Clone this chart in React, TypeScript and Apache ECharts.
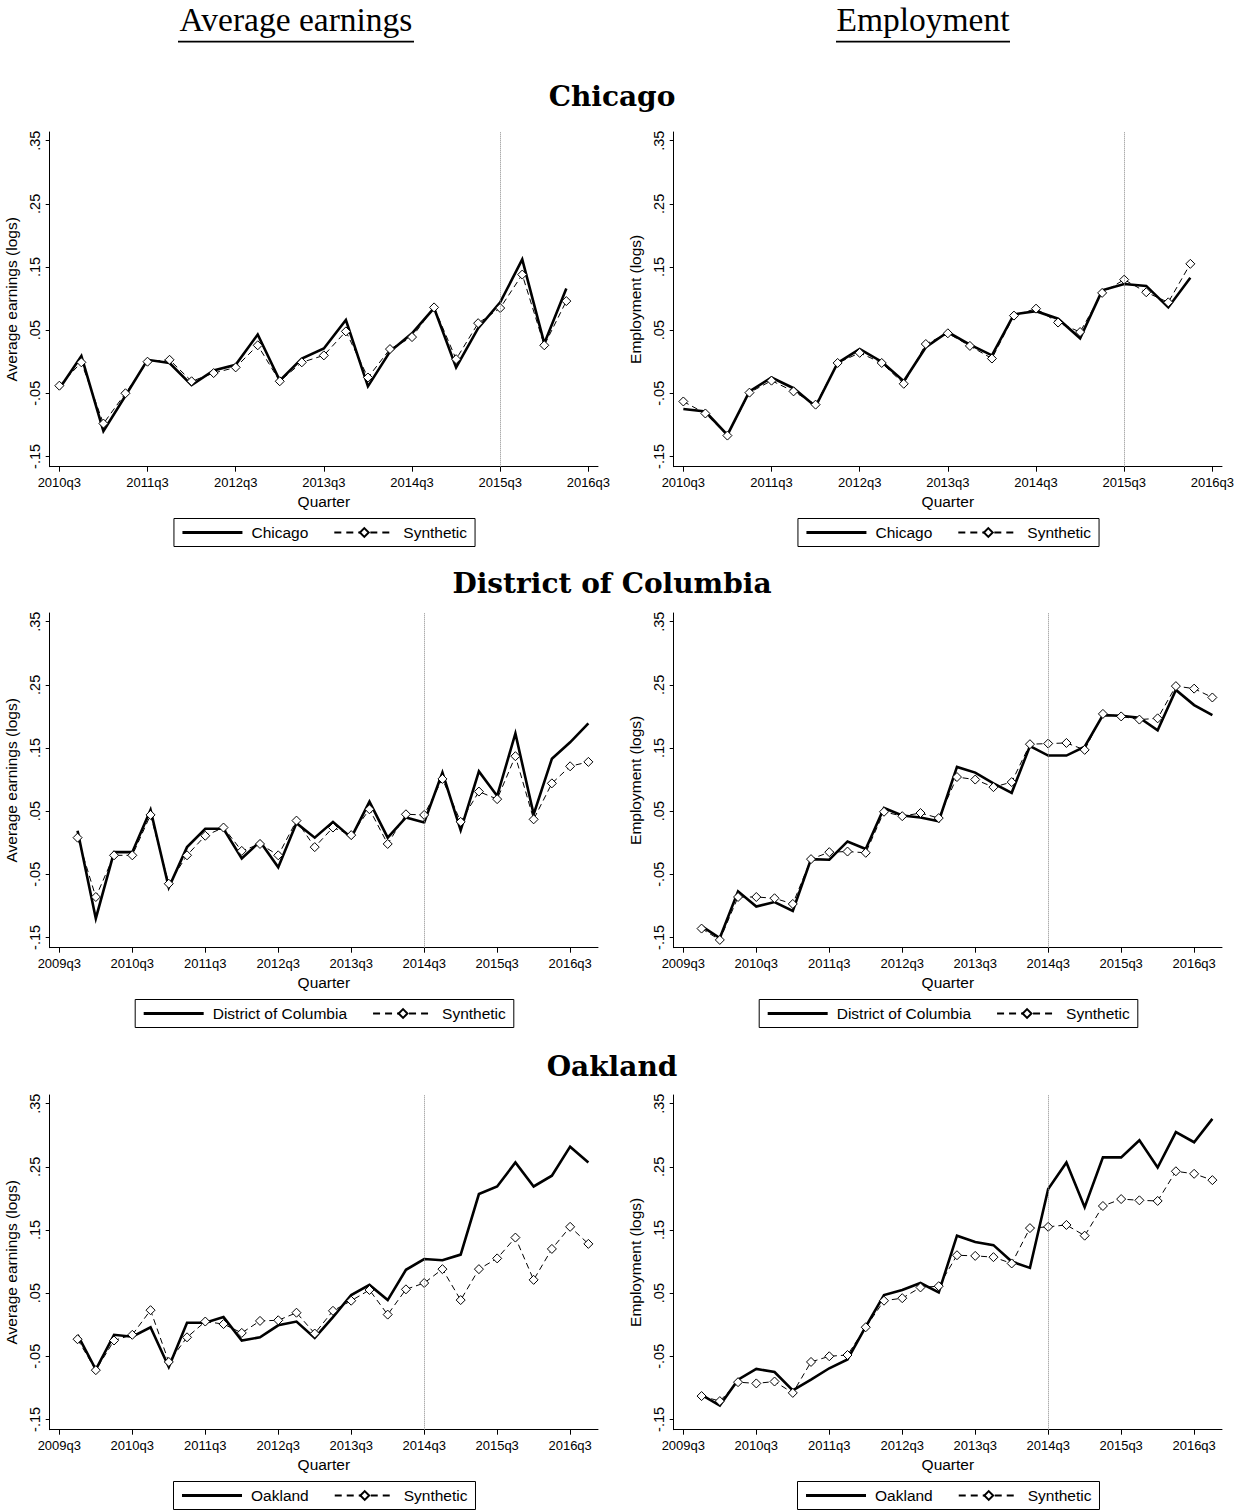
import React, { useEffect, useRef } from 'react';
import * as echarts from 'echarts';

// ---------------- data ----------------
// quarters
const chicagoFirstQuarter = '2010q3';
const dcFirstQuarter = '2009q4';
const oaklandFirstQuarter = '2009q4';
const chicagoTickRange = ['2010q3', '2016q3'];
const dcTickRange = ['2009q3', '2016q3'];
const oaklandTickRange = ['2009q3', '2016q3'];
const chicagoTreatQuarter = '2015q3';
const dcTreatQuarter = '2014q3';
const oaklandTreatQuarter = '2014q3';
const yTickValues = [-0.15, -0.05, 0.05, 0.15, 0.25, 0.35];

// Chicago
const chicagoEarnActual = [-0.043, 0.009, -0.110, -0.054, 0.003, -0.002, -0.037, -0.014, -0.005, 0.043, -0.030, 0.005, 0.021, 0.066, -0.039, 0.016, 0.045, 0.085, -0.009, 0.053, 0.094, 0.162, 0.029, 0.116];
const chicagoEarnSynth = [-0.038, -0.001, -0.098, -0.050, 0.000, 0.003, -0.031, -0.018, -0.009, 0.026, -0.031, -0.001, 0.010, 0.048, -0.025, 0.020, 0.039, 0.086, 0.004, 0.061, 0.085, 0.138, 0.026, 0.096];
const chicagoEmpActual = [-0.075, -0.079, -0.116, -0.047, -0.025, -0.042, -0.071, -0.002, 0.020, 0.000, -0.031, 0.023, 0.047, 0.027, 0.010, 0.075, 0.080, 0.068, 0.037, 0.113, 0.123, 0.120, 0.086, 0.133];
const chicagoEmpSynth = [-0.063, -0.082, -0.117, -0.049, -0.030, -0.047, -0.068, -0.002, 0.014, -0.002, -0.035, 0.028, 0.045, 0.025, 0.005, 0.073, 0.084, 0.062, 0.047, 0.109, 0.130, 0.110, 0.094, 0.155];

// District of Columbia
const dcEarnActual = [0.019, -0.120, -0.015, -0.015, 0.052, -0.071, -0.007, 0.022, 0.022, -0.025, 0.002, -0.039, 0.031, 0.008, 0.033, 0.008, 0.065, 0.008, 0.040, 0.032, 0.111, 0.020, 0.113, 0.074, 0.173, 0.045, 0.133, 0.159, 0.189];
const dcEarnSynth = [0.008, -0.086, -0.020, -0.020, 0.044, -0.065, -0.020, 0.011, 0.024, -0.013, -0.002, -0.020, 0.035, -0.007, 0.024, 0.012, 0.053, -0.002, 0.045, 0.044, 0.101, 0.033, 0.081, 0.069, 0.137, 0.037, 0.094, 0.121, 0.128];
const dcEmpActual = [-0.132, -0.151, -0.077, -0.101, -0.094, -0.108, -0.026, -0.027, 0.002, -0.010, 0.055, 0.043, 0.040, 0.034, 0.120, 0.111, 0.094, 0.079, 0.153, 0.138, 0.138, 0.152, 0.202, 0.201, 0.198, 0.178, 0.242, 0.218, 0.202];
const dcEmpSynth = [-0.136, -0.154, -0.086, -0.086, -0.088, -0.097, -0.026, -0.015, -0.014, -0.016, 0.049, 0.042, 0.047, 0.039, 0.104, 0.100, 0.088, 0.096, 0.156, 0.157, 0.158, 0.147, 0.204, 0.200, 0.195, 0.197, 0.248, 0.244, 0.230];

// Oakland
const oaklandEarnActual = [-0.016, -0.071, -0.016, -0.019, -0.004, -0.067, 0.003, 0.003, 0.012, -0.025, -0.020, -0.001, 0.005, -0.021, 0.012, 0.047, 0.063, 0.039, 0.087, 0.104, 0.102, 0.111, 0.207, 0.219, 0.257, 0.219, 0.236, 0.282, 0.257];
const oaklandEarnSynth = [-0.023, -0.072, -0.025, -0.016, 0.023, -0.059, -0.020, 0.005, 0.001, -0.013, 0.006, 0.007, 0.019, -0.014, 0.022, 0.038, 0.055, 0.016, 0.056, 0.066, 0.088, 0.039, 0.088, 0.105, 0.138, 0.071, 0.120, 0.155, 0.128];
const oaklandEmpActual = [-0.111, -0.128, -0.087, -0.070, -0.075, -0.104, -0.087, -0.069, -0.055, -0.003, 0.047, 0.055, 0.066, 0.051, 0.141, 0.131, 0.126, 0.100, 0.090, 0.215, 0.257, 0.186, 0.265, 0.265, 0.292, 0.249, 0.305, 0.289, 0.326];
const oaklandEmpSynth = [-0.113, -0.121, -0.091, -0.093, -0.090, -0.108, -0.059, -0.050, -0.048, -0.004, 0.038, 0.042, 0.059, 0.061, 0.110, 0.109, 0.107, 0.097, 0.153, 0.155, 0.158, 0.141, 0.188, 0.199, 0.197, 0.196, 0.243, 0.239, 0.229];

const columnHeaders = ['Average earnings', 'Employment'];
const rowTitles = ['Chicago', 'District of Columbia', 'Oakland'];
const yAxisNames = ['Average earnings (logs)', 'Employment (logs)'];

// ---------------- helpers ----------------
const SANS = '"Liberation Sans", Arial, Helvetica, sans-serif';
const SERIF = '"Liberation Serif", "Times New Roman", serif';
const SERIF_B = '"DejaVu Serif", serif';

const qNum = (s: string) => {
  const [y, q] = s.split('q');
  return Number(y) * 4 + Number(q) - 1;
};
const qLabel = (n: number) => {
  const r = Math.round(n);
  return `${Math.floor(r / 4)}q${(r % 4) + 1}`;
};
const yFmt = (v: number) => {
  const s = Math.abs(v).toFixed(2).replace(/^0/, '');
  return (v < 0 ? '-' : '') + s;
};

type Panel = {
  row: number;
  col: number;
  unit: string;
  yName: string;
  actual: number[];
  synth: number[];
  first: string;
  ticks: string[];
  treat: string;
};

const panels: Panel[] = [
  { row: 0, col: 0, unit: rowTitles[0], yName: yAxisNames[0], actual: chicagoEarnActual, synth: chicagoEarnSynth, first: chicagoFirstQuarter, ticks: chicagoTickRange, treat: chicagoTreatQuarter },
  { row: 0, col: 1, unit: rowTitles[0], yName: yAxisNames[1], actual: chicagoEmpActual, synth: chicagoEmpSynth, first: chicagoFirstQuarter, ticks: chicagoTickRange, treat: chicagoTreatQuarter },
  { row: 1, col: 0, unit: rowTitles[1], yName: yAxisNames[0], actual: dcEarnActual, synth: dcEarnSynth, first: dcFirstQuarter, ticks: dcTickRange, treat: dcTreatQuarter },
  { row: 1, col: 1, unit: rowTitles[1], yName: yAxisNames[1], actual: dcEmpActual, synth: dcEmpSynth, first: dcFirstQuarter, ticks: dcTickRange, treat: dcTreatQuarter },
  { row: 2, col: 0, unit: rowTitles[2], yName: yAxisNames[0], actual: oaklandEarnActual, synth: oaklandEarnSynth, first: oaklandFirstQuarter, ticks: oaklandTickRange, treat: oaklandTreatQuarter },
  { row: 2, col: 1, unit: rowTitles[2], yName: yAxisNames[1], actual: oaklandEmpActual, synth: oaklandEmpSynth, first: oaklandFirstQuarter, ticks: oaklandTickRange, treat: oaklandTreatQuarter },
];

// layout
const PANEL_W = 648;
const PANEL_H = 440;
const COL_X = [0, 624];
const ROW_Y0 = 120;
const ROW_STEP = 481.3;
const GRID = { left: 49.7, top: 12, width: 548.3, height: 334.7 };
const Y_MIN = -0.1663;
const Y_MAX = 0.3638;

function buildOption(p: Panel) {
  const s0 = qNum(p.first);
  const t0 = qNum(p.ticks[0]);
  const t1 = qNum(p.ticks[1]);
  const ticks: number[] = [];
  for (let t = t0; t <= t1; t += 4) ticks.push(t);
  const lastData = s0 + p.actual.length - 1;
  const lo = Math.min(t0, s0);
  const hi = Math.max(t1, lastData);
  const pad = (hi - lo) * 0.0182;
  const actualData = p.actual.map((v, i) => [s0 + i, v]);
  const synthData = p.synth.map((v, i) => [s0 + i, v]);
  return {
    animation: false,
    backgroundColor: 'transparent',
    grid: { ...GRID, containLabel: false, outerBoundsMode: 'none' },
    xAxis: {
      type: 'value',
      min: lo - pad,
      max: hi + pad,
      name: 'Quarter',
      nameLocation: 'middle',
      nameGap: 22,
      nameTextStyle: { fontFamily: SANS, fontSize: 15.5, color: '#000' },
      axisLine: { show: true, onZero: false, lineStyle: { color: '#000', width: 1 } },
      axisTick: { show: true, length: 5, customValues: ticks, lineStyle: { color: '#000' } },
      axisLabel: { show: true, customValues: ticks, formatter: (v: number) => qLabel(v), fontFamily: SANS, fontSize: 13, color: '#000', margin: 9 },
      splitLine: { show: false },
    },
    yAxis: {
      type: 'value',
      min: Y_MIN,
      max: Y_MAX,
      name: p.yName,
      nameLocation: 'middle',
      nameRotate: 90,
      nameGap: 26,
      nameTextStyle: { fontFamily: SANS, fontSize: 15.5, color: '#000' },
      axisLine: { show: true, onZero: false, lineStyle: { color: '#000', width: 1 } },
      axisTick: { show: true, length: 4, customValues: yTickValues, lineStyle: { color: '#000' } },
      axisLabel: { show: true, rotate: 90, customValues: yTickValues, formatter: (v: number) => yFmt(v), fontFamily: SANS, fontSize: 14.5, color: '#000', margin: 7 },
      splitLine: { show: false },
    },
    legend: {
      data: [
        { name: p.unit, itemStyle: { color: 'rgba(0,0,0,0)', borderColor: 'rgba(0,0,0,0)', borderWidth: 0, opacity: 0 }, lineStyle: { width: 3 } },
        { name: 'Synthetic', lineStyle: { type: [7, 5] } },
      ],
      left: 'center',
      top: 398.5,
      orient: 'horizontal',
      borderColor: '#000',
      borderWidth: 1,
      borderRadius: 0,
      padding: [6, 8, 6, 7],
      itemWidth: 60,
      itemHeight: 11,
      itemGap: 25,
      textStyle: { fontFamily: SANS, fontSize: 15.5, color: '#000', padding: [0, 0, 0, 4] },
      selectedMode: false,
    },
    series: [
      {
        name: p.unit,
        type: 'line',
        data: actualData,
        symbol: 'none',
        showSymbol: false,
        lineStyle: { color: '#000', width: 2.6, join: 'miter', miterLimit: 6 },
        itemStyle: { color: '#000' },
        z: 2,
        markLine: {
          silent: true,
          symbol: ['none', 'none'],
          label: { show: false },
          lineStyle: { type: 'dotted', color: '#888', width: 1 },
          data: [{ xAxis: qNum(p.treat) }],
        },
      },
      {
        name: 'Synthetic',
        type: 'line',
        data: synthData,
        symbol: 'diamond',
        symbolSize: [9, 9],
        showSymbol: true,
        lineStyle: { color: '#000', width: 1, type: [6, 4] },
        itemStyle: { color: '#fff', borderColor: '#000', borderWidth: 1 },
        z: 3,
      },
    ],
  };
}

function PanelChart({ p }: { p: Panel }) {
  const ref = useRef<HTMLDivElement>(null);
  useEffect(() => {
    if (!ref.current) return;
    const chart = echarts.init(ref.current, undefined, { renderer: 'svg' });
    chart.setOption(buildOption(p) as any);
    return () => chart.dispose();
  }, [p]);
  return (
    <div
      ref={ref}
      style={{
        position: 'absolute',
        left: COL_X[p.col],
        top: ROW_Y0 + p.row * ROW_STEP,
        width: PANEL_W,
        height: PANEL_H,
      }}
    />
  );
}

function Headers() {
  const ref = useRef<HTMLDivElement>(null);
  useEffect(() => {
    if (!ref.current) return;
    const chart = echarts.init(ref.current, undefined, { renderer: 'svg' });
    const headerX = [296, 923];
    const underline = [
      [178, 236],
      [836, 174],
    ];
    const titleY = [96.3, 583.3, 1066.3];
    const graphic: any[] = [];
    columnHeaders.forEach((h, i) => {
      graphic.push({
        type: 'text',
        x: headerX[i],
        y: 19.6,
        style: { text: h, font: `33.5px ${SERIF}`, fontFamily: SERIF, fontSize: 33.5, align: 'center', textAlign: 'center', verticalAlign: 'middle', textVerticalAlign: 'middle', fill: '#000' },
      });
      graphic.push({
        type: 'rect',
        shape: { x: underline[i][0], y: 40.8, width: underline[i][1], height: 1.8 },
        style: { fill: '#000' },
      });
    });
    rowTitles.forEach((t, i) => {
      graphic.push({
        type: 'text',
        x: 612,
        y: titleY[i],
        style: { text: t, font: `bold 28px ${SERIF_B}`, fontFamily: SERIF_B, fontWeight: 'bold', fontSize: 28, align: 'center', textAlign: 'center', verticalAlign: 'middle', textVerticalAlign: 'middle', fill: '#000' },
      });
    });
    chart.setOption({ animation: false, backgroundColor: '#fff', graphic });
    return () => chart.dispose();
  }, []);
  return <div ref={ref} style={{ position: 'absolute', left: 0, top: 0, width: 1247, height: 1511 }} />;
}

export default function App() {
  return (
    <div style={{ position: 'absolute', left: 0, top: 0, width: 1247, height: 1511, overflow: 'hidden', background: '#fff' }}>
      <Headers />
      {panels.map((p, i) => (
        <PanelChart key={i} p={p} />
      ))}
    </div>
  );
}
